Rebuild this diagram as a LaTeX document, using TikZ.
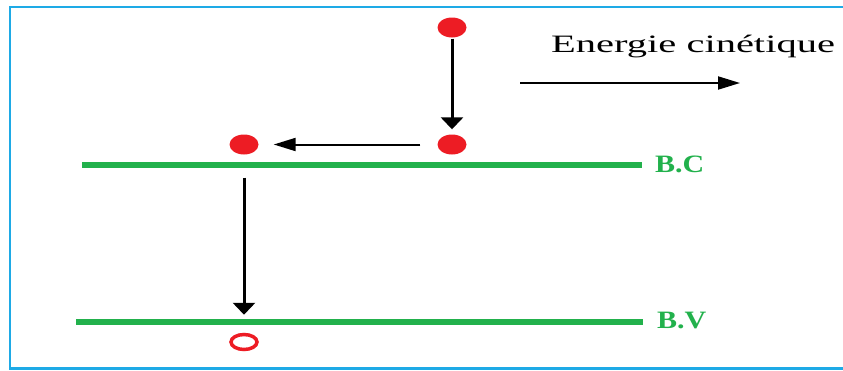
\documentclass[tikz,border=0pt]{standalone}
\usepackage{fontspec}
\setmainfont{Liberation Serif}
\usetikzlibrary{shapes.geometric, arrows.meta, positioning}
\definecolor{dotred}{RGB}{237,28,36}
\definecolor{bandgreen}{RGB}{34,177,76}
\definecolor{frameblue}{RGB}{30,170,230}

\begin{document}
\begin{tikzpicture}[x=1pt, y=-1pt,
    dot/.style={ellipse, fill=dotred, minimum width=29pt, minimum height=20pt, inner sep=0pt},
    hole/.style={ellipse, draw=dotred, line width=3.5pt, minimum width=26pt, minimum height=15pt, inner sep=0pt},
    band/.style={line width=6pt, color=bandgreen},
    bandlabel/.style={anchor=base west, inner sep=0pt, text=bandgreen, font=\fontsize{25}{25}\selectfont\bfseries},
    varrow/.style={-{Triangle[length=12pt, width=22pt]}, line width=3pt},
    harrow/.style={-{Triangle[length=22pt, width=13pt]}, line width=2pt}
]
\useasboundingbox (0,0) rectangle (843,370);
% frame
\draw[frameblue, line width=2.5pt] (843,7) -- (10,7) -- (10,368.5) -- (843,368.5);

% bands
\coordinate (bc1) at (82,164.5);
\coordinate (bc2) at (642,164.5);
\coordinate (bv1) at (76,322);
\coordinate (bv2) at (643,322);
\draw[band] (bc1) -- (bc2);
\draw[band] (bv1) -- (bv2);
\node[bandlabel] (bc) at (655,172) {\scalebox{1.2}[1]{B.C}};
\node[bandlabel] (bv) at (657,328) {\scalebox{1.2}[1]{B.V}};

% electrons
\node[dot] (e1) at (452,27.5) {};
\node[dot] (e2) at (452,144.5) {};
\node[dot] (e3) at (244,144.5) {};
\node[hole] (h1) at (244,342) {};

\draw[varrow, shorten <=1pt, shorten >=5pt] (e1) -- (e2);
\draw[harrow, shorten <=17pt, shorten >=15pt] (e2) -- (e3);
\draw[varrow, shorten <=23pt, shorten >=18pt] (e3) -- (h1);

% kinetic energy
\node[anchor=base west, inner sep=0pt, font=\fontsize{25}{25}\selectfont] (ke) at (551,52) {\scalebox{1.62}[1]{Energie cinétique}};
\coordinate (k1) at (520,83);
\coordinate (k2) at (740,83);
\draw[harrow] (k1) -- (k2);
\end{tikzpicture}
\end{document}
